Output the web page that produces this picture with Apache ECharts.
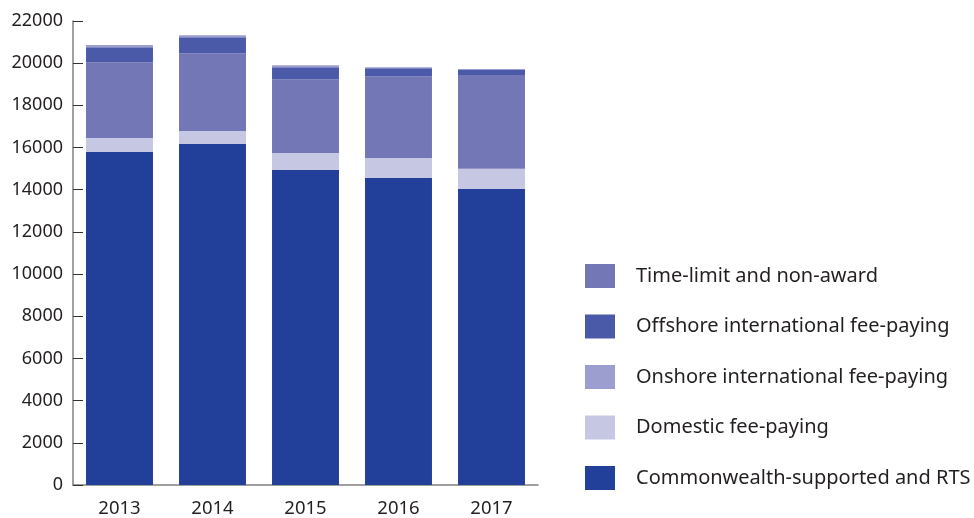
<!DOCTYPE html>
<html><head><meta charset="utf-8">
<script src="https://cdn.jsdelivr.net/npm/echarts@6/dist/echarts.min.js"></script>
<style>html,body{margin:0;padding:0;background:#fff}#c{width:974px;height:518px}</style>
</head><body><div id="c"></div>
<script>
const years = ['2013','2014','2015','2016','2017'];
const commonwealth = [15800, 16170, 14940, 14560, 14040];
const domestic = [650, 610, 800, 940, 950];
const onshore = [3600, 3690, 3500, 3880, 4450];
const offshore = [710, 760, 570, 380, 240];
const timeLimit = [100, 95, 95, 50, 50];
const yTicks = [0, 2000, 4000, 6000, 8000, 10000, 12000, 14000, 16000, 18000, 20000, 22000];

const C_CW = '#22409a', C_DOM = '#c6c8e3', C_BIG = '#7377b6', C_OFF = '#4b5aa8', C_THIN = '#9c9ecf';
const font = 'Noto Sans';

const chart = echarts.init(document.getElementById('c'));
function bar(name, data, color) {
  return { name, type: 'bar', stack: 'total', data, barWidth: '72%',
    itemStyle: { color }, emphasis: { disabled: true } };
}
chart.setOption({
  animation: false,
  grid: { left: 73, top: 21, right: 436, bottom: 32, containLabel: false },
  xAxis: {
    type: 'category', data: years,
    axisLine: { lineStyle: { color: '#808080', width: 1.5 } },
    axisTick: { inside: true, length: 11, lineStyle: { color: '#808080', width: 1.5 } },
    axisLabel: { color: '#231f20', fontFamily: font, fontSize: 18.5, margin: 14 }
  },
  yAxis: {
    type: 'value', min: yTicks[0], max: yTicks[yTicks.length - 1], interval: yTicks[1] - yTicks[0],
    splitLine: { show: false },
    axisLine: { show: true, lineStyle: { color: '#808080', width: 1.5 } },
    axisTick: { show: true, inside: true, length: 10, lineStyle: { color: '#333', width: 1 } },
    axisLabel: { color: '#231f20', fontFamily: font, fontSize: 18, margin: 10,
      formatter: v => String(v) }
  },
  legend: {
    orient: 'vertical', left: 585, top: 264, padding: 0, itemWidth: 30, itemHeight: 24, itemGap: 26.5,
    icon: 'rect',
    textStyle: { color: '#231f20', fontFamily: font, fontSize: 20, padding: [0,0,0,16] },
    data: [
      { name: 'Time-limit and non-award', itemStyle: { color: C_BIG } },
      { name: 'Offshore international fee-paying', itemStyle: { color: C_OFF } },
      { name: 'Onshore international fee-paying', itemStyle: { color: C_THIN } },
      { name: 'Domestic fee-paying', itemStyle: { color: C_DOM } },
      { name: 'Commonwealth-supported and RTS', itemStyle: { color: C_CW } }
    ]
  },
  series: [
    bar('Commonwealth-supported and RTS', commonwealth, C_CW),
    bar('Domestic fee-paying', domestic, C_DOM),
    bar('Onshore international fee-paying', onshore, C_BIG),
    bar('Offshore international fee-paying', offshore, C_OFF),
    bar('Time-limit and non-award', timeLimit, C_THIN)
  ]
});
</script></body></html>
